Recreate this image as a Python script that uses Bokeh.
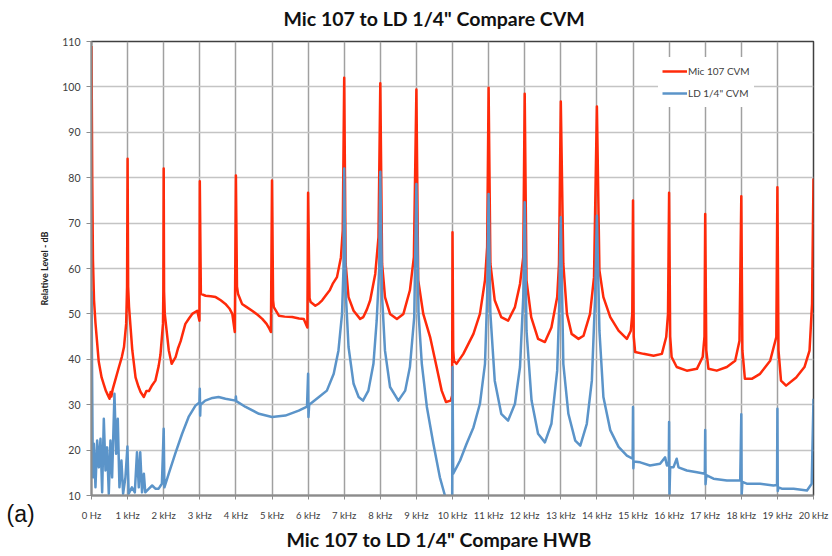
from bokeh.plotting import figure
from bokeh.models import Range1d, Label, Legend, LegendItem, FixedTicker, Title
from bokeh.embed import file_html
from bokeh.resources import INLINE

title_text = 'Mic 107 to LD 1/4" Compare CVM'
bottom_text = 'Mic 107 to LD 1/4" Compare HWB'
panel_tag = "(a)"
y_label = "Relative Level - dB"
series_names = ["Mic 107 CVM", 'LD 1/4" CVM']

x_ticks = list(range(0, 21))
x_tick_labels = ["0 Hz", "1 kHz", "2 kHz", "3 kHz", "4 kHz", "5 kHz", "6 kHz", "7 kHz",
                 "8 kHz", "9 kHz", "10 kHz", "11 kHz", "12 kHz", "13 kHz", "14 kHz",
                 "15 kHz", "16 kHz", "17 kHz", "18 kHz", "19 kHz", "20 kHz"]
y_ticks = [10, 20, 30, 40, 50, 60, 70, 80, 90, 100, 110]

# (frequency kHz, level dB)
mic_points = [
    (0.00, 109.0), (0.02, 80.0), (0.04, 62.0), (0.07, 53.0), (0.11, 48.0), (0.20, 39.5),
    (0.28, 36.0), (0.34, 34.5), (0.40, 33.0), (0.46, 32.0), (0.50, 31.3), (0.53, 32.8),
    (0.55, 31.8), (0.59, 33.5), (0.68, 36.0), (0.76, 38.3), (0.84, 40.5), (0.90, 42.7),
    (0.96, 47.8), (0.985, 56.0), (1.00, 84.2), (1.015, 56.0), (1.04, 51.5), (1.13, 42.0),
    (1.22, 36.0), (1.30, 34.0), (1.36, 32.8), (1.45, 31.7), (1.52, 33.0), (1.59, 33.0),
    (1.68, 34.3), (1.77, 35.3), (1.86, 38.5), (1.91, 41.0), (1.98, 47.8), (1.99, 55.0),
    (2.00, 82.0), (2.01, 55.0), (2.03, 50.0), (2.14, 42.0), (2.22, 39.0), (2.33, 40.5),
    (2.40, 42.5), (2.47, 44.0), (2.52, 45.5), (2.60, 47.8), (2.70, 49.0), (2.79, 50.0),
    (2.93, 50.7), (2.99, 48.5), (3.00, 79.2), (3.03, 54.4), (3.16, 54.0), (3.30, 53.9),
    (3.44, 53.7), (3.58, 53.0), (3.71, 52.2), (3.82, 51.2), (3.90, 50.0), (3.97, 46.0),
    (4.00, 80.5), (4.03, 56.0), (4.06, 54.4), (4.17, 52.2), (4.30, 51.5), (4.45, 50.7),
    (4.60, 49.8), (4.73, 48.9), (4.85, 47.8), (4.91, 47.0), (4.97, 46.0), (5.00, 79.4),
    (5.03, 53.0), (5.05, 51.5), (5.19, 49.6), (5.35, 49.4), (5.56, 49.3), (5.75, 49.0),
    (5.88, 48.9), (5.98, 47.0), (6.00, 76.7), (6.04, 53.5), (6.07, 52.6), (6.20, 51.8),
    (6.30, 52.3), (6.39, 53.0), (6.52, 54.4), (6.60, 55.2), (6.68, 56.6), (6.80, 58.1),
    (6.91, 62.5), (6.96, 68.4), (7.00, 102.0), (7.04, 61.0), (7.12, 53.7), (7.26, 50.7),
    (7.44, 48.9), (7.53, 49.3), (7.63, 51.0), (7.72, 53.0), (7.86, 58.8), (7.95, 66.9),
    (8.00, 100.8), (8.05, 61.0), (8.13, 53.7), (8.27, 50.0), (8.46, 48.9), (8.64, 50.0),
    (8.82, 55.2), (8.93, 62.5), (9.00, 99.4), (9.05, 57.4), (9.19, 50.0), (9.38, 44.9),
    (9.56, 38.3), (9.70, 33.1), (9.82, 30.6), (9.95, 30.9), (9.99, 32.0), (10.00, 68.0),
    (10.02, 42.0), (10.04, 39.7), (10.11, 39.0), (10.30, 41.2), (10.58, 45.6), (10.76, 50.0),
    (10.90, 57.4), (10.96, 64.7), (11.00, 99.8), (11.05, 61.0), (11.17, 53.0), (11.35, 49.3),
    (11.54, 48.5), (11.73, 51.5), (11.87, 56.6), (11.96, 62.5), (12.00, 98.5), (12.05, 57.4),
    (12.18, 49.3), (12.37, 44.5), (12.56, 43.8), (12.74, 47.0), (12.90, 53.7), (12.95, 61.0),
    (13.00, 96.8), (13.07, 61.0), (13.17, 50.0), (13.30, 45.6), (13.49, 44.5), (13.63, 45.2),
    (13.81, 50.0), (13.92, 58.1), (14.00, 95.7), (14.07, 59.6), (14.18, 53.7), (14.37, 49.3),
    (14.60, 46.3), (14.83, 44.5), (14.94, 46.3), (14.98, 50.0), (15.00, 75.0), (15.02, 45.0),
    (15.06, 41.6), (15.29, 41.2), (15.57, 40.8), (15.80, 41.2), (15.92, 44.9), (15.97, 50.0),
    (16.00, 76.7), (16.03, 45.0), (16.07, 40.5), (16.21, 38.3), (16.49, 37.5), (16.77, 37.9),
    (16.93, 40.5), (16.98, 45.0), (17.00, 72.0), (17.03, 42.0), (17.09, 37.9), (17.32, 37.5),
    (17.60, 38.3), (17.83, 39.7), (17.95, 44.1), (18.00, 75.9), (18.03, 42.0), (18.10, 35.7),
    (18.29, 35.7), (18.52, 36.8), (18.80, 39.7), (18.97, 44.9), (19.00, 77.9), (19.03, 42.0),
    (19.10, 35.3), (19.24, 34.2), (19.52, 36.0), (19.75, 38.3), (19.89, 41.9), (19.96, 52.2),
    (20.00, 79.8),
]

ld_points = [
    (0.00, 55.0), (0.037, 14.0), (0.065, 21.4), (0.11, 11.8), (0.157, 22.1), (0.203, 16.2),
    (0.249, 22.5), (0.295, 10.7), (0.341, 26.9), (0.387, 15.5), (0.433, 20.6), (0.479, 10.4),
    (0.525, 22.1), (0.571, 14.0), (0.636, 32.4), (0.682, 19.2), (0.728, 26.9), (0.774, 11.8),
    (0.829, 17.7), (0.876, 10.4), (0.94, 14.0), (0.995, 20.8), (1.03, 10.4), (1.12, 11.8),
    (1.20, 10.7), (1.26, 19.5), (1.31, 11.8), (1.35, 19.5), (1.40, 10.7), (1.45, 14.8),
    (1.49, 10.7), (1.59, 11.5), (1.68, 12.2), (1.77, 11.5), (1.86, 11.5), (1.95, 12.6),
    (2.00, 24.7), (2.02, 11.8), (2.14, 14.8), (2.32, 19.2), (2.51, 23.6), (2.69, 27.3),
    (2.88, 29.8), (2.99, 30.5), (3.00, 33.5), (3.01, 27.6), (3.02, 30.0), (3.15, 30.9),
    (3.35, 31.5), (3.52, 31.7), (3.71, 31.3), (3.99, 30.9), (4.00, 31.8), (4.01, 30.8),
    (4.27, 29.5), (4.64, 28.0), (5.00, 27.3), (5.37, 27.6), (5.74, 28.7), (5.97, 29.6),
    (6.00, 36.8), (6.01, 27.3), (6.03, 30.0), (6.30, 31.7), (6.52, 33.1), (6.71, 36.8),
    (6.84, 41.9), (6.94, 50.0), (6.98, 60.0), (7.00, 82.0), (7.04, 55.2), (7.12, 42.7),
    (7.26, 34.6), (7.40, 31.7), (7.52, 30.9), (7.67, 33.1), (7.81, 39.0), (7.90, 48.5),
    (7.97, 60.0), (8.00, 81.3), (8.05, 53.7), (8.13, 41.9), (8.27, 33.9), (8.50, 30.9),
    (8.69, 33.1), (8.82, 38.3), (8.94, 49.3), (9.00, 78.6), (9.06, 50.0), (9.15, 39.0),
    (9.29, 29.5), (9.47, 21.4), (9.65, 14.0), (9.79, 10.0), (9.90, 5.0), (9.99, 5.0),
    (10.00, 38.3), (10.02, 14.8), (10.21, 17.7), (10.39, 21.4), (10.58, 25.0), (10.76, 30.2),
    (10.90, 39.0), (10.96, 53.7), (11.00, 76.4), (11.05, 50.0), (11.17, 35.3), (11.35, 28.0),
    (11.54, 26.5), (11.73, 30.2), (11.87, 38.3), (11.96, 53.7), (12.00, 74.6), (12.05, 46.3),
    (12.19, 30.9), (12.37, 23.6), (12.56, 21.7), (12.74, 25.8), (12.90, 37.5), (12.95, 50.0),
    (13.00, 71.3), (13.07, 39.0), (13.21, 28.0), (13.40, 22.1), (13.54, 21.0), (13.72, 25.8),
    (13.86, 35.3), (13.95, 53.7), (14.00, 71.6), (14.07, 46.3), (14.18, 31.7), (14.37, 24.4),
    (14.60, 20.7), (14.83, 18.8), (14.99, 18.1), (15.00, 29.5), (15.01, 16.0), (15.02, 17.5),
    (15.20, 17.3), (15.47, 16.6), (15.75, 17.0), (15.89, 18.4), (15.94, 16.6), (15.99, 16.8),
    (16.00, 26.2), (16.01, 10.0), (16.03, 16.2), (16.12, 16.2), (16.21, 18.1), (16.26, 16.2),
    (16.49, 15.5), (16.77, 15.1), (16.99, 14.8), (17.00, 24.4), (17.01, 12.5), (17.03, 14.5),
    (17.23, 13.7), (17.60, 13.3), (17.97, 13.3), (18.00, 27.9), (18.01, 10.0), (18.03, 13.0),
    (18.15, 12.6), (18.52, 12.6), (18.89, 12.2), (18.99, 12.3), (19.00, 29.1), (19.01, 11.0),
    (19.03, 11.8), (19.12, 11.5), (19.45, 11.5), (19.82, 11.1), (19.95, 12.6), (20.00, 31.3),
]

mic_khz = [p[0] for p in mic_points]
mic_db = [p[1] for p in mic_points]
ld_khz = [p[0] for p in ld_points]
ld_db = [p[1] for p in ld_points]

FONT = "Lato"

p = figure(width=832, height=556, output_backend="svg", toolbar_location=None,
           x_range=Range1d(0, 20), y_range=Range1d(10, 110), title=None,
           min_border_left=91, min_border_right=19, min_border_top=41, min_border_bottom=61)
p.background_fill_color = "white"
p.border_fill_color = "white"
p.outline_line_color = "#404040"
p.outline_line_width = 1.5

p.xgrid.ticker = FixedTicker(ticks=x_ticks)
p.ygrid.ticker = FixedTicker(ticks=y_ticks)
p.xgrid.grid_line_color = "#a0a0a0"
p.xgrid.grid_line_width = 1.5
p.ygrid.grid_line_color = "#c4c4c4"
p.ygrid.grid_line_width = 1.5

xa = p.xaxis[0]
xa.ticker = FixedTicker(ticks=x_ticks)
xa.major_label_overrides = {t: lab for t, lab in zip(x_ticks, x_tick_labels)}
xa.minor_tick_line_color = None
xa.major_tick_in = 0
xa.major_tick_out = 4
xa.major_tick_line_color = "#8c8c8c"
xa.axis_line_color = "#8c8c8c"
xa.axis_line_width = 2
xa.major_label_standoff = 10
xa.major_label_text_font = FONT
xa.major_label_text_font_size = "9.5px"
xa.major_label_text_color = "#404040"

ya = p.yaxis[0]
ya.ticker = FixedTicker(ticks=y_ticks)
ya.minor_tick_line_color = None
ya.major_tick_in = 0
ya.major_tick_out = 5
ya.major_tick_line_color = "#8c8c8c"
ya.axis_line_color = "#8c8c8c"
ya.axis_line_width = 2
ya.major_label_standoff = 6
ya.major_label_text_font = FONT
ya.major_label_text_font_size = "10.5px"
ya.major_label_text_color = "#404040"
ya.axis_label = y_label
ya.axis_label_text_font = FONT
ya.axis_label_text_font_size = "9px"
ya.axis_label_text_font_style = "bold"
ya.axis_label_text_color = "#202020"
ya.axis_label_standoff = 9

r_mic = p.line(mic_khz, mic_db, line_color="#ff2a0a", line_width=2.5, line_join="round")
r_ld = p.line(ld_khz, ld_db, line_color="#5b94c9", line_width=2.5, line_join="round")

legend = Legend(items=[LegendItem(label=series_names[0], renderers=[r_mic]),
                       LegendItem(label=series_names[1], renderers=[r_ld])],
                location=(567, 388), padding=4, spacing=2,
                glyph_width=25, glyph_height=20, label_height=20, label_standoff=1,
                label_text_font=FONT, label_text_font_size="10px", label_text_color="#404040",
                background_fill_color="white", background_fill_alpha=1.0,
                border_line_alpha=0)
p.add_layout(legend, "center")

p.add_layout(Label(x=192, y=23, x_units="screen", y_units="screen", text=title_text,
                   text_align="left", text_baseline="alphabetic", text_font=FONT,
                   text_font_size="19.5px", text_font_style="bold",
                   text_color="#111111"), "above")
p.add_layout(Title(text=bottom_text, align="left", offset=195, standoff=5,
                   text_font=FONT, text_font_size="19.5px", text_font_style="bold",
                   text_color="#111111"), "below")
p.add_layout(Label(x=-2, y=-18, x_units="screen", y_units="screen", text=panel_tag,
                   text_align="left", text_baseline="alphabetic", text_font="Liberation Sans",
                   text_font_size="23px", text_color="#111111"), "left")

open("out.html", "w").write(file_html(p, INLINE))
